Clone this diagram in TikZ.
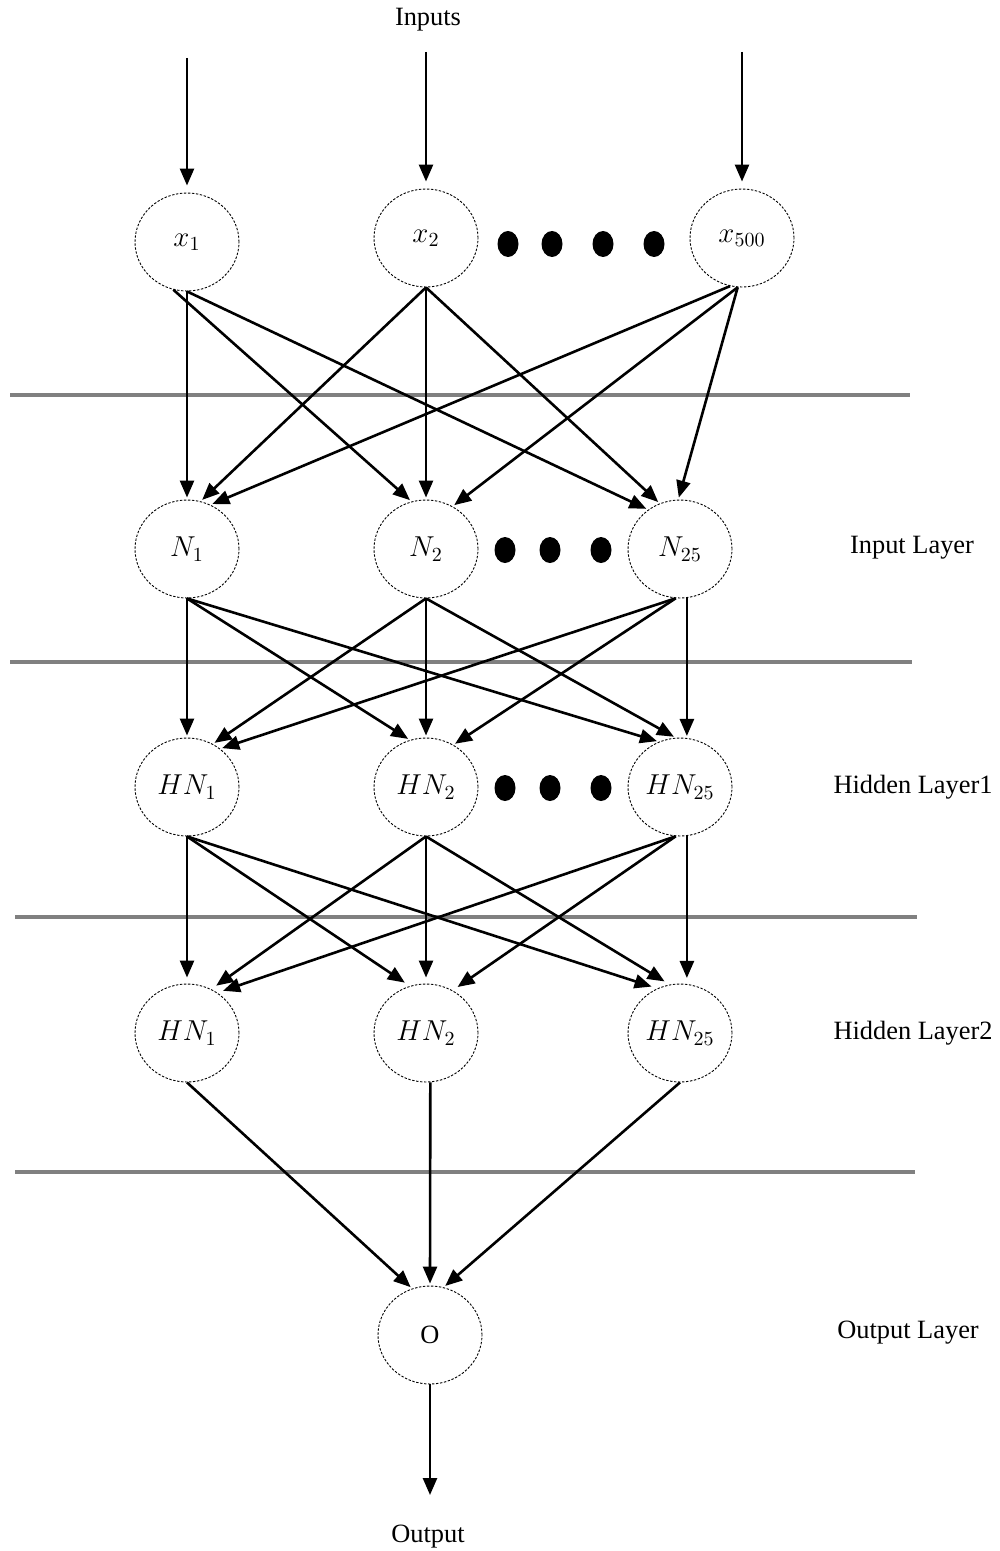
\documentclass[tikz,border=0pt]{standalone}
\usepackage{fontspec}
\setmainfont{Liberation Serif}
\usetikzlibrary{arrows.meta,shapes.geometric}
\begin{document}
\begin{tikzpicture}[x=0.5pt,y=-0.5pt,
  neuron/.style={ellipse,draw=black,line width=0.45pt,dash pattern=on 1.2pt off 0.8pt,
    minimum width=52pt,minimum height=49pt,inner sep=0pt,font=\fontsize{14.2}{17}\selectfont},
  dotn/.style={ellipse,fill=black,minimum width=10.5pt,minimum height=13pt,inner sep=0pt},
  lbl/.style={font=\fontsize{13.2}{16}\selectfont,inner sep=0pt},
  arr/.style={line width=1.3pt,-{Triangle[length=8.5pt,width=7pt]},shorten >=1pt},
  sep/.style={line width=1.6pt,draw={rgb,255:red,128;green,128;blue,128}}]
\useasboundingbox (0,0) rectangle (1000,1551);

% separators
\draw[sep] (10,395) -- (910,395);
\draw[sep] (10,662) -- (912,662);
\draw[sep] (15,917) -- (917,917);
\draw[sep] (15,1172) -- (915,1172);

% nodes
\node[neuron] (x1) at (187,242) {$x_1$};
\node[neuron] (x2) at (426,238) {$x_2$};
\node[neuron] (x500) at (742,238) {$x_{500}$};
\node[neuron] (n1) at (187,549) {$N_1$};
\node[neuron] (n2) at (426,549) {$N_2$};
\node[neuron] (n25) at (680,549) {$N_{25}$};
\node[neuron] (ha1) at (187,787) {$HN_1$};
\node[neuron] (ha2) at (426,787) {$HN_2$};
\node[neuron] (ha25) at (680,787) {$HN_{25}$};
\node[neuron] (hb1) at (187,1033) {$HN_1$};
\node[neuron] (hb2) at (426,1033) {$HN_2$};
\node[neuron] (hb25) at (680,1033) {$HN_{25}$};
\node[neuron,font=\fontsize{13.2}{16}\selectfont] (o) at (430,1335) {O};

% ellipsis dots
\node[dotn] (d11) at (508,244) {};
\node[dotn] (d12) at (552,244) {};
\node[dotn] (d13) at (603,244) {};
\node[dotn] (d14) at (654,244) {};
\node[dotn] (d21) at (505,550) {};
\node[dotn] (d22) at (550,550) {};
\node[dotn] (d23) at (601,550) {};
\node[dotn] (d31) at (505,788) {};
\node[dotn] (d32) at (550,788) {};
\node[dotn] (d33) at (601,788) {};

% labels
\node[lbl] (tin) at (428,20) {Inputs};
\node[lbl] (tout) at (428,1537) {Output};
\node[lbl] (l1) at (912,548) {Input Layer};
\node[lbl,anchor=east] (l2) at (993,787) {Hidden Layer1};
\node[lbl,anchor=east] (l3) at (993,1033) {Hidden Layer2};
\node[lbl] (l4) at (908,1333) {Output Layer};

% inputs
\coordinate (in1) at (187,58);
\coordinate (in2) at (426,52);
\coordinate (in3) at (742,52);
\coordinate (out) at (430,1497);
\draw[arr,shorten >=3.5pt] (in1) -- (x1.north);
\draw[arr,shorten >=3.5pt] (in2) -- (x2.north);
\draw[arr,shorten >=3.5pt] (in3) -- (x500.north);

% inputs -> input layer
\draw[arr] (x1.south) -- (n1.north);
\draw[arr] (x1.254) -- (n2.107);
\draw[arr] (x1.south) -- (n25.129);
\draw[arr] (x2.south) -- (n1.74);
\draw[arr] (x2.south) -- (n2.north);
\draw[arr] (x2.south) -- (n25.114);
\draw[arr] (x500.256) -- (n1.62);
\draw[arr] (x500.265) -- (n2.58);
\draw[arr] (x500.265) -- (n25.92);

% input layer -> hidden layer 1
\draw[arr] (n1.south) -- (ha1.north);
\draw[arr] (n1.south) -- (ha2.109);
\draw[arr] (n1.south) -- (ha25.115);
\draw[arr] (n2.south) -- (ha1.59);
\draw[arr] (n2.south) -- (ha2.north);
\draw[arr] (n2.south) -- (ha25.95);
\draw[arr] (n25.265) -- (ha1.49);
\draw[arr] (n25.265) -- (ha2.57);
\draw[arr] (n25.278) -- (ha25.82);

% hidden layer 1 -> hidden layer 2
\draw[arr,shorten >=3pt] (ha1.south) -- (hb1.north);
\draw[arr,shorten >=3pt] (ha1.south) -- (hb2.109);
\draw[arr,shorten >=3pt] (ha1.south) -- (hb25.117);
\draw[arr,shorten >=3pt] (ha2.south) -- (hb1.61);
\draw[arr,shorten >=3pt] (ha2.south) -- (hb2.north);
\draw[arr,shorten >=3pt] (ha2.south) -- (hb25.102);
\draw[arr,shorten >=3pt] (ha25.265) -- (hb1.53);
\draw[arr,shorten >=3pt] (ha25.265) -- (hb2.58);
\draw[arr,shorten >=3pt] (ha25.278) -- (hb25.82);

% hidden layer 2 -> output
\draw[arr] (hb1.south) -- (o.111);
\draw[arr] (hb2.-85) -- (o.north);
\draw[arr] (hb25.south) -- (o.74);
\draw[arr] (o.south) -- (out);
\end{tikzpicture}
\end{document}
